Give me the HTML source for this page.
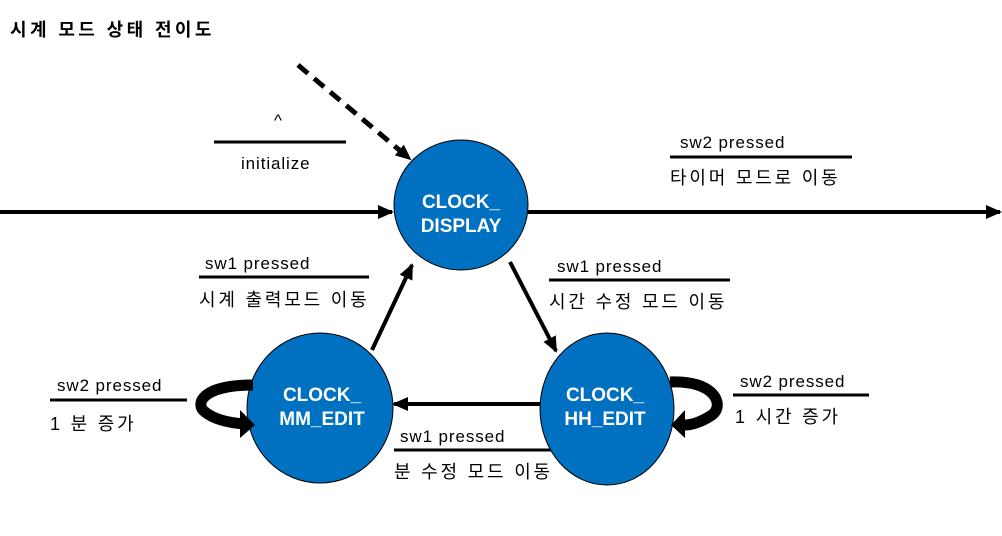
<!DOCTYPE html>
<html><head><meta charset="utf-8"><style>
body{margin:0;width:1002px;height:536px;background:#fff;overflow:hidden;position:relative;font-family:"Liberation Sans","Noto Sans CJK KR",sans-serif}
.t{position:absolute;font-size:17px;color:#000;white-space:nowrap;letter-spacing:0.9px}
.k{position:absolute;font-size:18px;color:#000;white-space:nowrap;letter-spacing:2.8px}
</style></head><body>
<svg width="1002" height="536" style="position:absolute;left:0;top:0">
<defs>
<marker id="b" markerWidth="16" markerHeight="14" refX="14" refY="7" orient="auto" markerUnits="userSpaceOnUse"><path d="M0,0 L16,7 L0,14Z" fill="#000"/></marker>
</defs>
<g stroke="#000" fill="none">
<line x1="0" y1="212" x2="392" y2="212" stroke-width="4" marker-end="url(#b)"/>
<line x1="528" y1="212" x2="1000" y2="212" stroke-width="4" marker-end="url(#b)"/>
<line x1="298" y1="65" x2="410" y2="159" stroke-width="5" stroke-dasharray="13,8" marker-end="url(#b)"/>
<line x1="372" y1="350" x2="412" y2="265" stroke-width="4" marker-end="url(#b)"/>
<line x1="510" y1="262" x2="556" y2="351" stroke-width="4" marker-end="url(#b)"/>
<line x1="540" y1="404" x2="394" y2="404" stroke-width="4" marker-end="url(#b)"/>
<line x1="214" y1="142" x2="346" y2="142" stroke-width="3"/>
<line x1="670" y1="157" x2="852" y2="157" stroke-width="3"/>
<line x1="199" y1="277" x2="369" y2="277" stroke-width="3"/>
<line x1="549" y1="280" x2="730" y2="280" stroke-width="3"/>
<line x1="50" y1="400" x2="187" y2="400" stroke-width="3"/>
<line x1="733" y1="395" x2="869" y2="395" stroke-width="3"/>
<line x1="394" y1="450" x2="552" y2="450" stroke-width="3"/>
</g>
<ellipse cx="461" cy="205" rx="67" ry="65" fill="#0070c0" stroke="#000"/>
<ellipse cx="320" cy="408" rx="73" ry="75" fill="#0070c0" stroke="#000"/>
<ellipse cx="607" cy="409" rx="67" ry="76" fill="#0070c0" stroke="#000"/>
<path d="M253,385 C200,385 195,405 205,412 C215,420 230,423 245,424" stroke="#000" stroke-width="11" fill="none"/>
<path d="M240,410 L255,425 L240,438Z" fill="#000"/>
<path d="M670,382 C715,380 725,405 712,415 C700,423 690,425 685,425" stroke="#000" stroke-width="11" fill="none"/>
<path d="M685,410 L671,425 L685,438Z" fill="#000"/>
<g fill="#fff" font-family="Liberation Sans,sans-serif" font-weight="bold" font-size="19" text-anchor="middle">
<text x="461" y="208">CLOCK_</text><text x="461" y="232">DISPLAY</text>
<text x="322" y="401">CLOCK_</text><text x="322" y="425">MM_EDIT</text>
<text x="605" y="401">CLOCK_</text><text x="605" y="425">HH_EDIT</text>
</g>
</svg>
<div class="k" style="left:10px;top:16px;font-weight:bold;letter-spacing:3.4px">시계 모드 상태 전이도</div>
<div class="t" style="left:274px;top:111px">^</div>
<div class="t" style="left:241px;top:154px">initialize</div>
<div class="t" style="left:680px;top:133px">sw2 pressed</div>
<div class="k" style="left:670px;top:164px">타이머 모드로 이동</div>
<div class="t" style="left:205px;top:254px">sw1 pressed</div>
<div class="k" style="left:199px;top:286px">시계 출력모드 이동</div>
<div class="t" style="left:557px;top:257px">sw1 pressed</div>
<div class="k" style="left:549px;top:288px">시간 수정 모드 이동</div>
<div class="t" style="left:57px;top:376px">sw2 pressed</div>
<div class="k" style="left:50px;top:410px">1 분 증가</div>
<div class="t" style="left:740px;top:372px">sw2 pressed</div>
<div class="k" style="left:735px;top:403px">1 시간 증가</div>
<div class="t" style="left:400px;top:427px">sw1 pressed</div>
<div class="k" style="left:394px;top:458px">분 수정 모드 이동</div>
</body></html>
